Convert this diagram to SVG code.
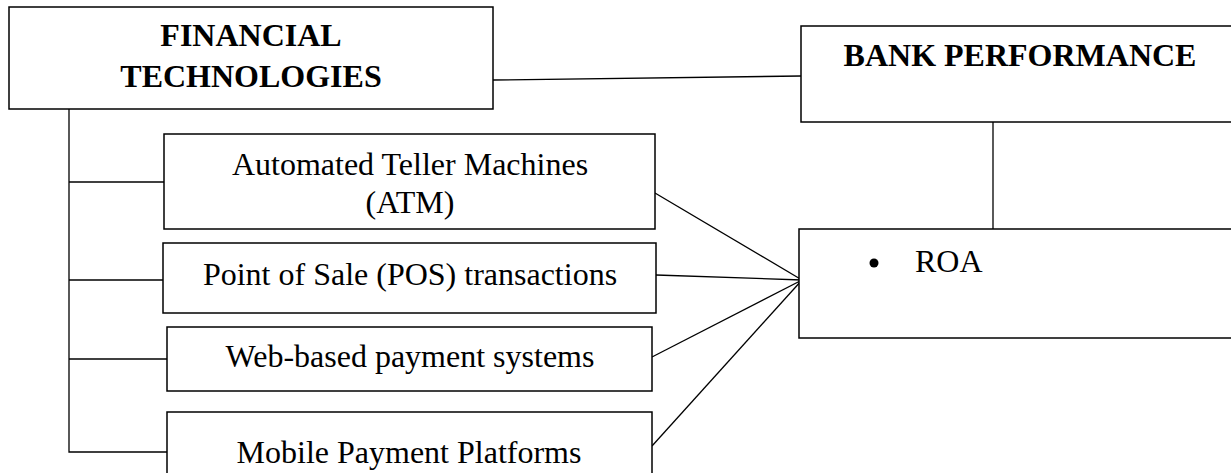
<svg xmlns="http://www.w3.org/2000/svg" width="1231" height="473" viewBox="0 0 1231 473">
<style>
.box{fill:#fff;stroke:#000;stroke-width:1.5}
.ln{fill:none;stroke:#000;stroke-width:1.3}
.t{font-family:"Liberation Serif","Times New Roman",serif;font-size:32px;fill:#000;text-anchor:middle}
.b{font-weight:bold}
</style>
<g id="connectors">
<line class="ln" x1="493" y1="80" x2="801" y2="76"/>
<line class="ln" x1="993" y1="122" x2="993" y2="229"/>
<polyline class="ln" points="69,109 69,452 167,452"/>
<line class="ln" x1="69" y1="182" x2="164" y2="182"/>
<line class="ln" x1="69" y1="280" x2="163" y2="280"/>
<line class="ln" x1="69" y1="359" x2="167" y2="359"/>
<line class="ln" x1="655" y1="193" x2="802" y2="280"/>
<line class="ln" x1="656" y1="275" x2="802" y2="280"/>
<line class="ln" x1="652" y1="357" x2="802" y2="280"/>
<line class="ln" x1="652" y1="446" x2="802" y2="280"/>
</g>
<g id="financial-technologies">
<rect class="box" x="9" y="7" width="484" height="102"/>
<text class="t b" x="251" y="46">FINANCIAL</text>
<text class="t b" x="251" y="87">TECHNOLOGIES</text>
</g>
<g id="bank-performance">
<rect class="box" x="801" y="26" width="440" height="96"/>
<text class="t b" x="1020" y="66">BANK PERFORMANCE</text>
</g>
<g id="atm">
<rect class="box" x="164" y="134" width="491" height="95"/>
<text class="t" x="410" y="175">Automated Teller Machines</text>
<text class="t" x="410" y="213">(ATM)</text>
</g>
<g id="pos">
<rect class="box" x="163" y="243" width="493" height="70"/>
<text class="t" x="410" y="285">Point of Sale (POS) transactions</text>
</g>
<g id="web">
<rect class="box" x="167" y="327" width="485" height="64"/>
<text class="t" x="410" y="367">Web-based payment systems</text>
</g>
<g id="mobile">
<rect class="box" x="167" y="412" width="485" height="80"/>
<text class="t" x="409" y="463">Mobile Payment Platforms</text>
</g>
<g id="roa">
<rect class="box" x="799" y="229" width="440" height="109"/>
<circle cx="874" cy="263" r="4.5" fill="#000"/>
<text class="t" x="915" y="272" style="text-anchor:start">ROA</text>
</g>
</svg>
